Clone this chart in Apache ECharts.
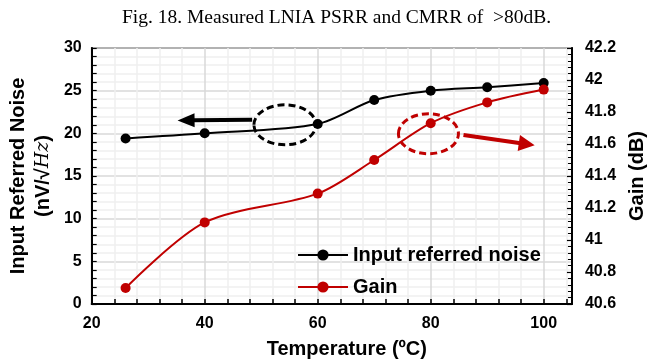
<!DOCTYPE html>
<html>
<head>
<meta charset="utf-8">
<script src="https://cdn.jsdelivr.net/npm/echarts@6/dist/echarts.min.js"></script>
<style>html,body{margin:0;padding:0;background:#fff}#c{width:655px;height:364px}</style>
</head>
<body>
<div id="c"></div>
<script>
// ---- data ----
const temps = [26, 40, 60, 70, 80, 90, 100];
const noise = [19.4, 20.0, 21.1, 23.9, 25.0, 25.4, 25.9];
const gain = [40.70, 41.11, 41.29, 41.50, 41.73, 41.86, 41.94];
const xLabelTicks = [20, 40, 60, 80, 100];
const noiseLabelTicks = [0, 5, 10, 15, 20, 25, 30];
const gainLabelTicks = [40.6, 40.8, 41, 41.2, 41.4, 41.6, 41.8, 42, 42.2];

const FONT = '"Liberation Sans", Arial, sans-serif';
const RED = '#c00000';
const MAJ = '#d9d9d9', MIN = '#efefef';

const chart = echarts.init(document.getElementById('c'));
const tickLbl = {fontFamily: FONT, fontWeight: 'bold', fontSize: 16, color: '#000'};

chart.setOption({
  animation: false,
  title: {
    text: 'Fig. 18. Measured LNIA PSRR and CMRR of  >80dB.',
    left: 117, top: 3,
    textStyle: {fontFamily: '"Liberation Serif", "Times New Roman", serif', fontWeight: 'normal', fontSize: 19.5, color: '#000'}
  },
  grid: {left: 91, right: 80, top: 48, bottom: 59, show: true, borderColor: '#000', borderWidth: 1.5, backgroundColor: 'transparent'},
  legend: {
    orient: 'vertical', left: 292, top: 240, itemWidth: 50, itemHeight: 14, itemGap: 12,
    textStyle: {fontFamily: FONT, fontWeight: 'bold', fontSize: 20, color: '#000', lineHeight: 20},
    data: ['Input referred noise', 'Gain']
  },
  xAxis: {
    type: 'value', min: 20, max: 105, interval: 4,
    name: 'Temperature (ºC)', nameLocation: 'middle', nameGap: 35,
    nameTextStyle: {fontFamily: FONT, fontWeight: 'bold', fontSize: 20, color: '#000', padding: [0, 0, 0, 30]},
    axisLine: {lineStyle: {color: '#000', width: 2}},
    axisTick: {inside: true, length: 5, lineStyle: {color: '#000', width: 1.5}},
    axisLabel: Object.assign({margin: 12, showMaxLabel: false, formatter: v => xLabelTicks.indexOf(v) >= 0 ? String(v) : ''}, tickLbl),
    splitLine: {show: true, lineStyle: {color: [MAJ, MIN, MIN, MIN, MIN], width: 1.5}}
  },
  yAxis: [{
    type: 'value', min: 0, max: 30, interval: 1,
    name: '{a|Input Referred Noise}\n{b|(nV/√}{c|Hz}{b|)}', nameLocation: 'middle', nameGap: 27, nameRotate: 90,
    nameTextStyle: {
      rich: {
        a: {fontFamily: FONT, fontWeight: 'bold', fontSize: 20, color: '#000', lineHeight: 25},
        b: {fontFamily: FONT, fontWeight: 'bold', fontSize: 20, color: '#000', lineHeight: 25},
        c: {fontFamily: '"DejaVu Serif", "Liberation Serif", serif', fontStyle: 'italic', fontWeight: 'normal', fontSize: 19, color: '#000', lineHeight: 25}
      }
    },
    axisLine: {show: true, lineStyle: {color: '#000', width: 2}},
    axisTick: {show: true, inside: true, length: 5, lineStyle: {color: '#000', width: 1.2}},
    axisLabel: Object.assign({margin: 10, formatter: v => noiseLabelTicks.indexOf(v) >= 0 ? String(v) : ''}, tickLbl),
    splitLine: {show: true, lineStyle: {color: [MAJ, MIN, MIN, MIN, MIN], width: 1.5}}
  }, {
    type: 'value', min: 40.6, max: 42.2, interval: 0.2, position: 'right',
    name: 'Gain (dB)', nameLocation: 'middle', nameGap: 49, nameRotate: 90,
    nameTextStyle: {fontFamily: FONT, fontWeight: 'bold', fontSize: 20, color: '#000'},
    axisLine: {show: true, lineStyle: {color: '#000', width: 2}},
    axisTick: {show: true, inside: true, length: 5, lineStyle: {color: '#000', width: 1.2}},
    minorTick: {show: true, splitNumber: 5, length: 4, lineStyle: {color: '#000', width: 1}},
    axisLabel: Object.assign({margin: 13, formatter: v => {
      const r = Math.round(v * 10) / 10;
      return gainLabelTicks.indexOf(r) >= 0 ? String(r) : '';
    }}, tickLbl),
    splitLine: {show: false}
  }],
  series: [{
    name: 'Input referred noise', type: 'line', yAxisIndex: 0, smooth: 0.3,
    data: temps.map((t, i) => [t, noise[i]]),
    symbol: 'circle', symbolSize: 10,
    lineStyle: {color: '#000', width: 2}, itemStyle: {color: '#000'}
  }, {
    name: 'Gain', type: 'line', yAxisIndex: 1, smooth: 0.3,
    data: temps.map((t, i) => [t, gain[i]]),
    symbol: 'circle', symbolSize: 10,
    lineStyle: {color: RED, width: 2}, itemStyle: {color: RED}
  }]
});

// ---- annotations (positioned in data space) ----
function px(x, y) { return chart.convertToPixel({xAxisIndex: 0, yAxisIndex: 0}, [x, y]); }
function arrow(from, to, color, headLen, headW, shaftW) {
  const dx = to[0] - from[0], dy = to[1] - from[1];
  const L = Math.sqrt(dx * dx + dy * dy), ux = dx / L, uy = dy / L;
  const bx = to[0] - ux * headLen, by = to[1] - uy * headLen;
  const nx = -uy, ny = ux;
  return [
    {type: 'line', shape: {x1: from[0], y1: from[1], x2: bx + ux * 2, y2: by + uy * 2}, style: {stroke: color, lineWidth: shaftW}, z: 100},
    {type: 'polygon', shape: {points: [[to[0], to[1]], [bx + nx * headW / 2, by + ny * headW / 2], [bx - nx * headW / 2, by - ny * headW / 2]]}, style: {fill: color}, z: 100}
  ];
}
const bc = px(54.2, 21.0), rc = px(79.6, 19.95);
const g = [
  {type: 'ellipse', shape: {cx: bc[0], cy: bc[1], rx: 31, ry: 20}, style: {fill: 'none', stroke: '#000', lineWidth: 3, lineDash: [7, 4]}, z: 100},
  {type: 'ellipse', shape: {cx: rc[0], cy: rc[1], rx: 30, ry: 20}, style: {fill: 'none', stroke: RED, lineWidth: 3, lineDash: [7, 4]}, z: 100}
].concat(
  arrow(px(48.4, 21.6), px(35.2, 21.5), '#000', 17, 14, 4),
  arrow(px(85.8, 19.8), px(98.4, 18.6), RED, 16, 16, 4)
);
chart.setOption({graphic: g});
</script>
</body>
</html>
